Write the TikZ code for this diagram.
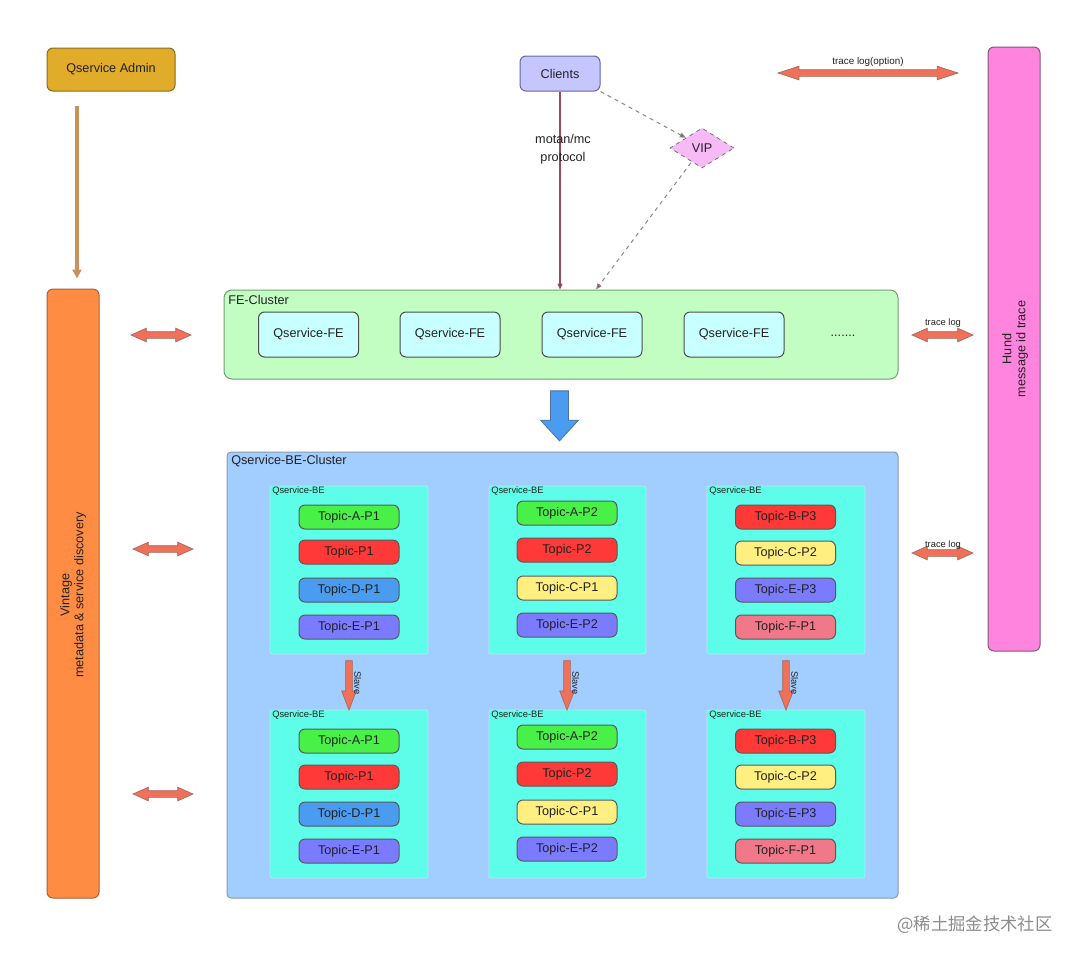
\documentclass[tikz,border=0pt]{standalone}
\usepackage{fontspec}
\setmainfont{Liberation Sans}
\newfontfamily\cjk{Noto Sans CJK SC}
\usetikzlibrary{shapes.geometric,shapes.arrows,arrows.meta}
\definecolor{txt}{HTML}{222222}
\definecolor{admin}{HTML}{E0AC2A}
\definecolor{adminb}{HTML}{8A6A20}
\definecolor{admarr}{HTML}{C8925A}
\definecolor{vint}{HTML}{FF8C42}
\definecolor{vintb}{HTML}{A86038}
\definecolor{clients}{HTML}{C6C6FF}
\definecolor{clientsb}{HTML}{6464A8}
\definecolor{maroon}{HTML}{9A4A5A}
\definecolor{tipred}{HTML}{B02030}
\definecolor{vip}{HTML}{F8BAF6}
\definecolor{hund}{HTML}{FF84DE}
\definecolor{hundb}{HTML}{7A5A7A}
\definecolor{fecl}{HTML}{C2FDC2}
\definecolor{feclb}{HTML}{70A070}
\definecolor{fenode}{HTML}{C8FFFF}
\definecolor{becl}{HTML}{A2CEFF}
\definecolor{beclb}{HTML}{8A9AAA}
\definecolor{bebox}{HTML}{5EFDE9}
\definecolor{salmon}{HTML}{F0705A}
\definecolor{salmonb}{HTML}{A06A60}
\definecolor{tgreen}{HTML}{48F048}
\definecolor{tred}{HTML}{FF3838}
\definecolor{tblue}{HTML}{4A9CF0}
\definecolor{tpurple}{HTML}{7B7BFF}
\definecolor{tyellow}{HTML}{FFEE80}
\definecolor{tpink}{HTML}{F07888}
\definecolor{bluearr}{HTML}{4A9CF0}
\definecolor{bluearrb}{HTML}{5070A0}
\begin{document}
\begin{tikzpicture}[x=0.75pt,y=-0.75pt,
  font=\fontsize{9.5}{11}\selectfont, text=txt,
  box/.style={draw, rounded corners=4.5pt, line width=0.75pt, inner sep=0pt},
  fenodebox/.style={box, fill=fenode, draw=black!70, minimum width=75pt, minimum height=33.75pt},
  bebox/.style={draw=bebox!80!black!40, fill=bebox, rounded corners=1.5pt, line width=0.5pt, minimum width=118.5pt, minimum height=126pt, inner sep=0pt},
  topic/.style={box, draw=black!65, minimum width=75pt, minimum height=18pt},
  smalllbl/.style={font=\fontsize{7}{8}\selectfont, inner sep=0pt},
  fatdouble/.style={double arrow, fill=salmon, draw=salmonb, line width=0.5pt, inner sep=2.25pt,
     minimum width=9.75pt, double arrow head extend=2.6pt, double arrow tip angle=48},
  slavearr/.style={single arrow, shape border rotate=270, fill=salmon, draw=salmonb, line width=0.5pt, inner sep=2.25pt,
     minimum width=10.5pt, minimum height=37pt, single arrow head extend=3pt, single arrow tip angle=42},
  tiparrow/.style={-{Triangle[length=4.5pt,width=3.75pt,fill=tipred]}}
]
\useasboundingbox[fill=white] (0,0) rectangle (1080,961);

% left column
\node[box, fill=admin, draw=adminb, minimum width=96pt, minimum height=32.25pt] (admin) at (111,69.5) {Qservice Admin};
\node[box, fill=vint, draw=vintb, minimum width=39pt, minimum height=456.75pt] (vintage) at (73,593.5) {};
\node[rotate=90, align=center, font=\fontsize{9.5}{10.5}\selectfont] (vintagetxt) at (73,595) {Vintage\\metadata \& service discovery};
\coordinate (ax) at (77,0);
\draw[draw=admarr, line width=2.6pt, -{Triangle[length=6.75pt,width=6.75pt]}, shorten <=10.5pt, shorten >=7.5pt]
  (admin.south -| ax) -- (vintage.north -| ax);

% clients and VIP
\node[box, fill=clients, draw=clientsb, minimum width=60pt, minimum height=26.25pt] (clients) at (560,73.5) {Clients};
\node[diamond, draw=black!55, dashed, fill=vip, line width=0.6pt, minimum width=48pt, minimum height=30pt, inner sep=0pt] (vip) at (702,148) {VIP};

% Hund
\node[box, fill=hund, draw=hundb, minimum width=39pt, minimum height=453pt] (hund) at (1014,349) {};
\node[rotate=90, align=center, font=\fontsize{9.5}{10.5}\selectfont] (hundtxt) at (1015,349) {Hund\\message id trace};

% FE cluster
\node[box, rounded corners=6pt, fill=fecl, draw=feclb, minimum width=505.5pt, minimum height=66.75pt] (fe) at (561,334.5) {};
\node[anchor=west, inner sep=0pt] (felbl) at (228,300) {FE-Cluster};
\node[fenodebox] (fe1) at (308.5,334.5) {Qservice-FE};
\node[fenodebox] (fe2) at (450,334.5) {Qservice-FE};
\node[fenodebox] (fe3) at (592,334.5) {Qservice-FE};
\node[fenodebox] (fe4) at (734,334.5) {Qservice-FE};
\node (fedots) at (843,336) {.......};

% client connectors
\coordinate (vx) at (596,0);
\draw[maroon, line width=0.8pt, tiparrow] (clients.south) -- (clients.south |- fe.north);
\node[align=center, font=\fontsize{9.5}{13.5}\selectfont] (proto) at (563,149) {motan/mc\\protocol};
\draw[black!45, dashed, line width=0.8pt, tiparrow] (clients.south east) -- (vip.north west);
\draw[black!45, dashed, line width=0.8pt, tiparrow, shorten <=0.75pt] (vip) -- (fe.north -| vx);

% trace log (option)
\node[fatdouble, minimum height=135pt, double arrow tip angle=36] (traceopt) at (868,73) {};
\node[smalllbl, font=\fontsize{7.4}{8}\selectfont] (traceoptlbl) at (868,62) {trace log(option)};

% BE cluster
\node[draw=beclb, fill=becl, rounded corners=3pt, line width=0.75pt, minimum width=503.25pt, minimum height=334.5pt, inner sep=0pt] (be) at (562.5,675) {};
\node[anchor=west, inner sep=0pt] (belbl) at (231,461) {Qservice-BE-Cluster};

% blue arrow FE -> BE
\node[single arrow, shape border rotate=270, fill=bluearr, draw=bluearrb, line width=0.6pt, inner sep=6.4pt,
  minimum width=27.75pt, minimum height=37.5pt, single arrow head extend=7.5pt, single arrow tip angle=85] (bluearrow) at (559.5,411) {};

% BE boxes
\node[bebox] (be11) at (349,570) {};
\node[bebox, minimum width=117.75pt] (be12) at (567.5,570) {};
\node[bebox] (be13) at (786,570) {};
\node[bebox] (be21) at (349,794) {};
\node[bebox, minimum width=117.75pt] (be22) at (567.5,794) {};
\node[bebox] (be23) at (786,794) {};
\foreach \n/\x/\y in {be11/272/491, be12/491/491, be13/709/491, be21/272/715, be22/491/715, be23/709/715}
  \node[smalllbl, anchor=west] (\n lbl) at (\x,\y) {Qservice-BE};

% topics (top row)
\node[topic, fill=tgreen] (t11a) at (349,517) {Topic-A-P1};
\node[topic, fill=tred] (t11b) at (349,552) {Topic-P1};
\node[topic, fill=tblue] (t11c) at (349,590) {Topic-D-P1};
\node[topic, fill=tpurple] (t11d) at (349,627) {Topic-E-P1};
\node[topic, fill=tgreen] (t12a) at (567,513) {Topic-A-P2};
\node[topic, fill=tred] (t12b) at (567,550) {Topic-P2};
\node[topic, fill=tyellow] (t12c) at (567,588) {Topic-C-P1};
\node[topic, fill=tpurple] (t12d) at (567,625) {Topic-E-P2};
\node[topic, fill=tred] (t13a) at (785.5,517) {Topic-B-P3};
\node[topic, fill=tyellow] (t13b) at (785.5,553) {Topic-C-P2};
\node[topic, fill=tpurple] (t13c) at (785.5,590) {Topic-E-P3};
\node[topic, fill=tpink] (t13d) at (785.5,627) {Topic-F-P1};
% topics (bottom row)
\node[topic, fill=tgreen] (t21a) at (349,741) {Topic-A-P1};
\node[topic, fill=tred] (t21b) at (349,777) {Topic-P1};
\node[topic, fill=tblue] (t21c) at (349,814) {Topic-D-P1};
\node[topic, fill=tpurple] (t21d) at (349,851) {Topic-E-P1};
\node[topic, fill=tgreen] (t22a) at (567,737) {Topic-A-P2};
\node[topic, fill=tred] (t22b) at (567,774) {Topic-P2};
\node[topic, fill=tyellow] (t22c) at (567,812) {Topic-C-P1};
\node[topic, fill=tpurple] (t22d) at (567,849) {Topic-E-P2};
\node[topic, fill=tred] (t23a) at (785.5,741) {Topic-B-P3};
\node[topic, fill=tyellow] (t23b) at (785.5,777) {Topic-C-P2};
\node[topic, fill=tpurple] (t23c) at (785.5,814) {Topic-E-P3};
\node[topic, fill=tpink] (t23d) at (785.5,851) {Topic-F-P1};

% slave arrows
\foreach \n/\x in {s1/349, s2/567, s3/786} {
  \node[slavearr] (\n) at (\x,681) {};
  \node[smalllbl, rotate=-90, anchor=south] (\n lbl) at (\x+5,683) {Slave};
}

% side arrows
\node[fatdouble, minimum height=45pt] (la1) at (161,335) {};
\node[fatdouble, minimum height=45pt] (la2) at (163,549) {};
\node[fatdouble, minimum height=45pt] (la3) at (163,794) {};
\node[fatdouble, minimum height=45.75pt] (ra1) at (942.5,335) {};
\node[fatdouble, minimum height=45.75pt] (ra2) at (942.5,553) {};
\node[smalllbl] (ra1lbl) at (943,323) {trace log};
\node[smalllbl] (ra2lbl) at (943,545) {trace log};

% watermark
\node[text=black!45, font=\cjk\fontsize{13}{15}\selectfont, inner sep=0pt] (wm) at (975,925) {@稀土掘金技术社区};
\end{tikzpicture}
\end{document}
